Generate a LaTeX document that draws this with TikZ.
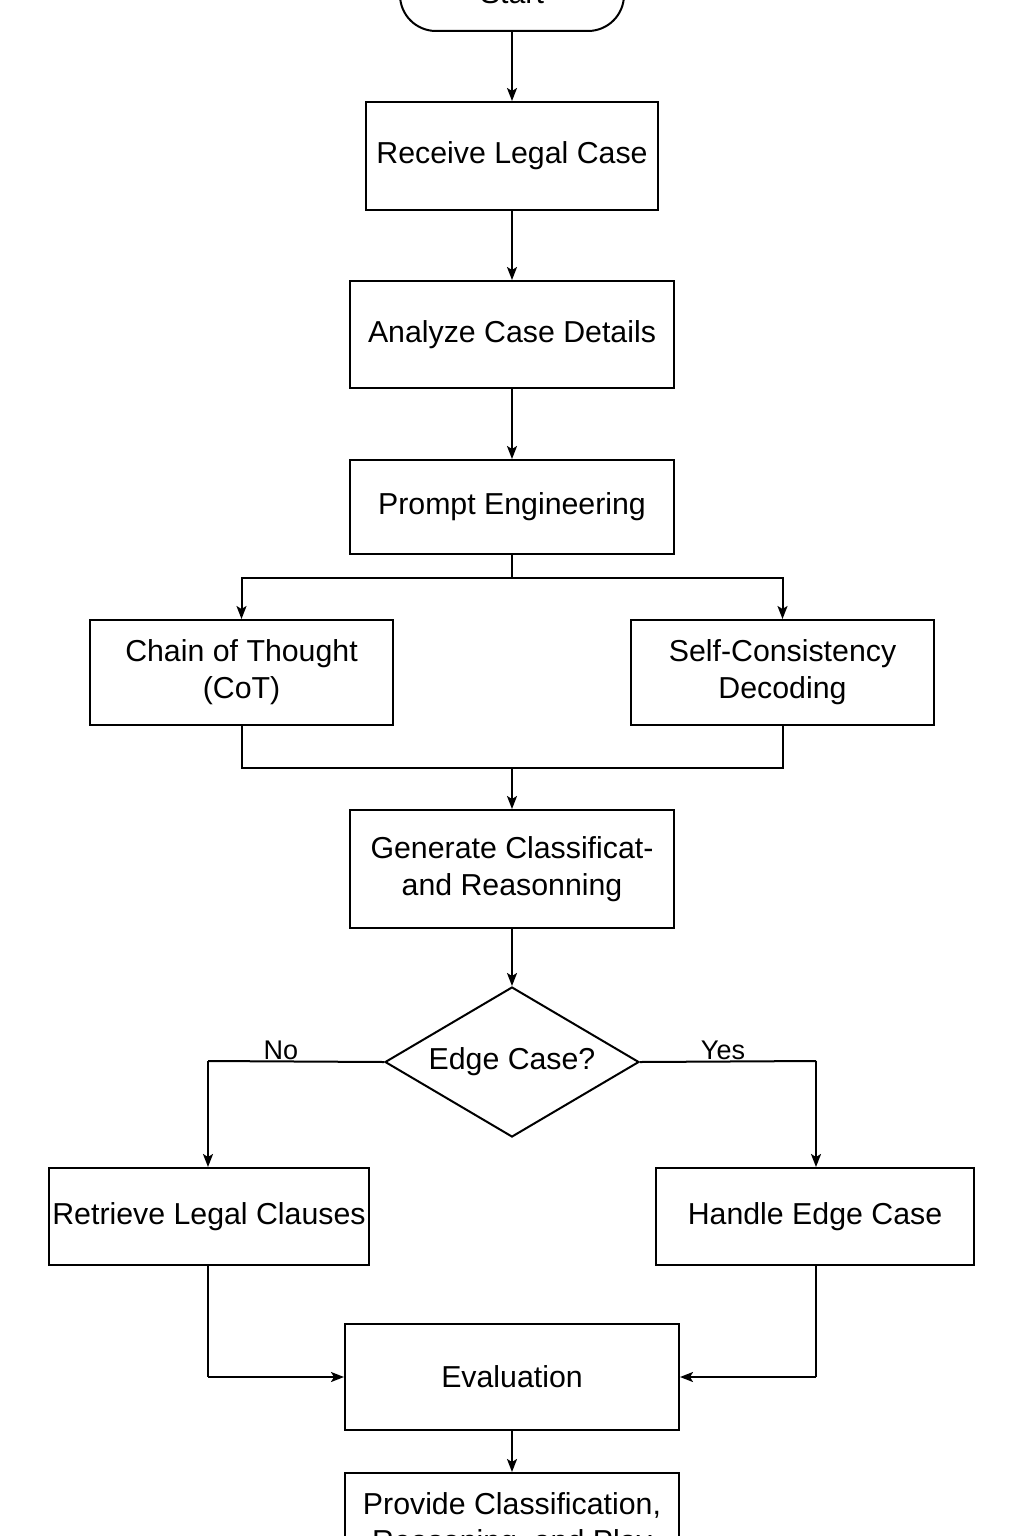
\documentclass[tikz,border=0pt]{standalone}
\usepackage{fontspec}
\setmainfont{Liberation Sans}
\usetikzlibrary{arrows.meta,shapes.geometric}
\tikzset{
  box/.style={draw, line width=2pt, rectangle, inner sep=2pt, align=center,
    font=\fontsize{30.3}{37}\selectfont},
  dia/.style={draw, line width=2pt, diamond, inner sep=0pt, aspect=1.69,
    minimum width=254pt, minimum height=150pt, font=\fontsize{30.3}{37}\selectfont},
  startbox/.style={draw, line width=2pt, rectangle, rounded corners=36pt,
    minimum width=224pt, minimum height=76pt, font=\fontsize{30.3}{37}\selectfont},
  conn/.style={line width=2pt},
  arr/.style={line width=2pt, -{Stealth[length=13pt,width=10pt,inset=3pt]}},
  lbl/.style={font=\fontsize{27}{32}\selectfont, inner sep=0pt}
}
\begin{document}
\begin{tikzpicture}[x=1pt,y=-1pt]
\fill[white] (0,0) rectangle (1024,1536);
\useasboundingbox (0,0) rectangle (1024,1536);
\clip (0,0) rectangle (1024,1536);

\node[startbox] (start) at (512,-7) {Start};
\node[box, minimum width=292pt, minimum height=108pt] (rec) at (512,156) {Receive Legal Case};
\node[box, minimum width=324pt, minimum height=107pt] (ana) at (512,334.5) {Analyze Case Details};
\node[box, minimum width=324pt, minimum height=94pt] (pe) at (512,507) {Prompt Engineering};
\node[box, minimum width=303pt, minimum height=105pt] (cot) at (241.5,672.5) {Chain of Thought\\(CoT)};
\node[box, minimum width=303pt, minimum height=105pt] (sc) at (782.5,672.5) {Self-Consistency\\Decoding};
\node[box, minimum width=324pt, minimum height=118pt] (gen) at (512,869) {Generate Classificat-\\and Reasonning};
\node[dia] (edge) at (512,1062) {Edge Case?};
\node[box, minimum width=320pt, minimum height=97pt] (ret) at (209,1216.5) {Retrieve Legal Clauses};
\node[box, minimum width=318pt, minimum height=97pt] (hec) at (815,1216.5) {Handle Edge Case};
\node[box, minimum width=334pt, minimum height=106pt] (eval) at (512,1377) {Evaluation};
\node[box, minimum width=334pt, minimum height=104pt] (prov) at (512,1525) {Provide Classification,\\Reasoning, and Play};

\coordinate (split) at (512,578);
\coordinate (merge) at (512,768);
\coordinate (nocorner) at (208,1061);
\coordinate (yescorner) at (816,1061);
\coordinate (retcorner) at (208,1377);
\coordinate (heccorner) at (816,1377);

\draw[arr] (start.south) -- (rec.north);
\draw[arr] (rec.south) -- (ana.north);
\draw[arr] (ana.south) -- (pe.north);
\draw[conn] (pe.south) -- (split);
\draw[arr] (split) -| (cot.north);
\draw[arr] (split) -| (sc.north);
\draw[conn] (cot.south) |- (merge);
\draw[conn] (sc.south) |- (merge);
\draw[arr] (merge) -- (gen.north);
\draw[arr] (gen.south) -- (edge.north);
\draw[conn] (edge.west) -- (nocorner);
\draw[arr] (nocorner) -- (nocorner |- ret.north);
\draw[conn] (edge.east) -- (yescorner);
\draw[arr] (yescorner) -- (yescorner |- hec.north);
\node[lbl] (nolbl) at (281,1050) {No};
\node[lbl] (yeslbl) at (723,1050) {Yes};
\draw[conn] (ret.south -| retcorner) -- (retcorner);
\draw[arr] (retcorner) -- (eval.west);
\draw[conn] (hec.south -| heccorner) -- (heccorner);
\draw[arr] (heccorner) -- (eval.east);
\draw[arr] (eval.south) -- (prov.north);
\end{tikzpicture}
\end{document}
